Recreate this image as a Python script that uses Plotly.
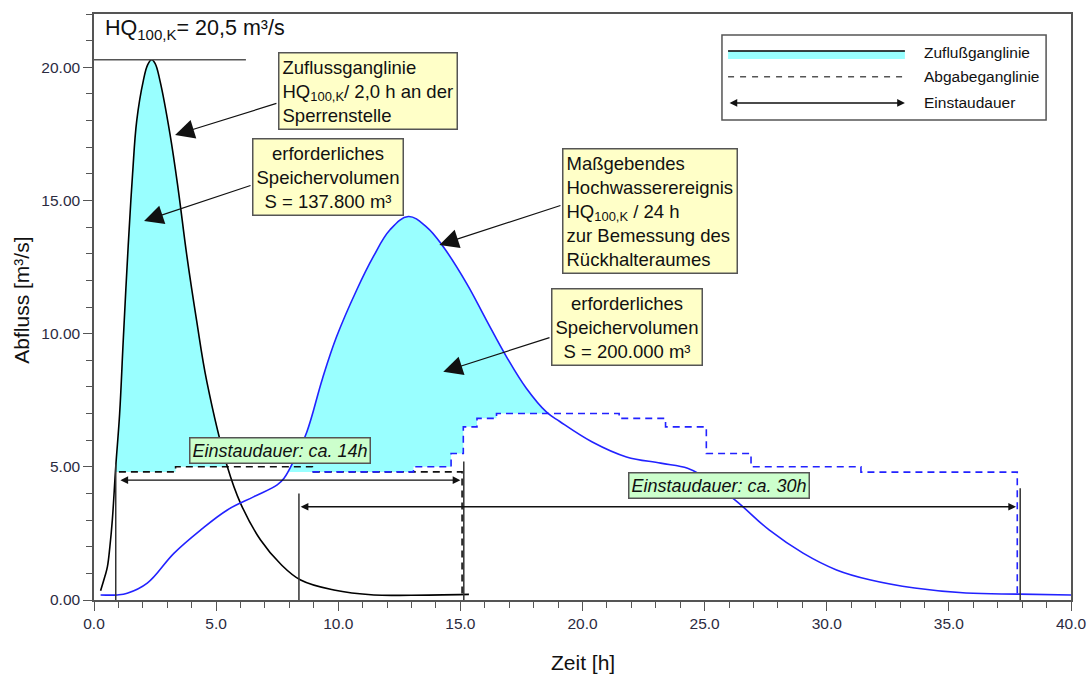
import numpy as np
import plotly.graph_objects as go

# ---------------- data ----------------
# Inflow hydrograph HQ100,K / 2,0 h (black)
inflow_t = [0.27, 0.45, 0.55, 0.65, 0.75, 0.89, 1.05, 1.2, 1.4, 1.58, 1.75, 2.02, 2.2, 2.36,
            2.5, 2.7, 3.11, 3.45, 3.79, 4.2, 4.62, 5.46, 6.0, 6.82, 7.64, 8.46, 9.82,
            11.46, 13.0, 15.35]
inflow_q = [0.35, 0.9, 1.25, 2.0, 3.0, 5.0, 7.0, 9.8, 13.3, 16.0, 18.0, 19.5, 20.1, 20.28,
            20.15, 19.5, 17.5, 15.4, 13.0, 10.5, 8.2, 5.0, 3.63, 2.25, 1.35, 0.75, 0.375,
            0.19, 0.18, 0.21]

# Design flood HQ100,K / 24 h (blue)
flood_t = [0.27, 0.95, 1.36, 2.18, 3.27, 4.37, 5.46, 6.55, 7.5, 7.78, 8.19, 8.71, 9.35, 9.93,
           10.75, 11.43, 12.12, 12.87, 13.62, 14.3, 15.26, 16.07, 16.89, 17.7, 18.53, 19.07,
           20.4, 21.8, 23.2, 24.3, 24.86, 26.25, 27.64, 29.03, 30.4, 31.8, 33.6, 35.7, 37.9, 40.0]
flood_q = [0.19, 0.19, 0.25, 0.63, 1.75, 2.63, 3.38, 3.88, 4.32, 4.57, 5.25, 6.3, 8.3, 9.88,
           11.63, 12.88, 13.9, 14.4, 14.0, 13.26, 11.88, 10.5, 9.13, 7.95, 7.05, 6.7,
           5.93, 5.37, 5.14, 4.95, 4.69, 3.75, 2.63, 1.76, 1.13, 0.75, 0.45, 0.26, 0.22, 0.19]

# Outflow (Abgabeganglinie) event 1, step values (black dashed)
out1_t = [1.02, 3.34, 8.94, 15.0, 15.07]
out1_q = [4.81, 5.0, 4.81, 4.81, 0.2]

# Outflow event 2, step values (blue dashed)
out2_t = [8.94, 13.08, 14.62, 15.12, 15.68, 16.48, 21.5, 23.4, 25.07, 26.9, 31.4, 37.7, 37.8]
out2_q = [4.81, 5.0, 5.5, 6.5, 6.82, 7.0, 6.82, 6.5, 5.5, 5.0, 4.8, 4.8, 0.2]

# Storage periods (Einstaudauer): start, end, level
dur1 = (1.02, 15.0, 4.5)
dur2 = (8.4, 37.75, 3.5)
# vertical marker lines: time, top
markers_t = [0.89, 8.39, 15.14, 37.92]
markers_top = [5.13, 4.0, 5.2, 4.2]

HQ_peak = 20.28
HQ_line_end = 6.22

CYAN = "#99FFFF"
BLUE = "#2222FF"
YEL = "#FFFFC8"
GRN = "#CCFFCC"
FONT = "Liberation Sans, Arial, sans-serif"
SMOOTH = 1.1


def step_val(ts, qs, t):
    v = qs[0]
    for ti, qi in zip(ts, qs):
        if ti <= t:
            v = qi
    return v


def step_segment(ts, qs, t0, t1):
    xs = [t0]
    ys = [step_val(ts, qs, t0)]
    for ti, qi in zip(ts, qs):
        if t0 < ti < t1:
            xs.append(ti)
            ys.append(qi)
    xs.append(t1)
    ys.append(step_val(ts, qs, t1))
    return xs, ys


def curve_segment(ts, qs, t0, t1):
    ts = np.array(ts)
    qs = np.array(qs)
    xs = [t0] + [float(t) for t in ts if t0 < t < t1] + [t1]
    ys = ([float(np.interp(t0, ts, qs))] + [float(q) for t, q in zip(ts, qs) if t0 < t < t1]
          + [float(np.interp(t1, ts, qs))])
    return xs, ys


fig = go.Figure()

# --------- filled storage volumes ----------
fills = [
    (inflow_t, inflow_q, out1_t, out1_q, 0.89, 5.46),
    (flood_t, flood_q, out2_t, out2_q, 7.92, 18.62),
]
for ct, cq, ot, oq, t0, t1 in fills:
    sx, sy = step_segment(ot, oq, t0, t1)
    cx, cy = curve_segment(ct, cq, t0, t1)
    fig.add_trace(go.Scatter(x=sx, y=sy, mode="lines", line=dict(width=0, shape="hv"),
                             hoverinfo="skip", showlegend=False))
    fig.add_trace(go.Scatter(x=cx, y=cy, mode="lines",
                             line=dict(width=0, shape="spline", smoothing=SMOOTH),
                             fill="tonexty", fillcolor=CYAN, hoverinfo="skip", showlegend=False))

# --------- outflow lines ----------
fig.add_trace(go.Scatter(x=out1_t, y=out1_q, mode="lines",
                         line=dict(color="#111111", width=1.6, dash="7px,5px", shape="hv"),
                         showlegend=False))
fig.add_trace(go.Scatter(x=out2_t, y=out2_q, mode="lines",
                         line=dict(color=BLUE, width=1.6, dash="7px,5px", shape="hv"),
                         showlegend=False))

# --------- hydrographs ----------
fig.add_trace(go.Scatter(x=inflow_t, y=inflow_q, mode="lines",
                         line=dict(color="#000000", width=1.6, shape="spline", smoothing=SMOOTH),
                         showlegend=False))
fig.add_trace(go.Scatter(x=flood_t, y=flood_q, mode="lines",
                         line=dict(color=BLUE, width=1.6, shape="spline", smoothing=SMOOTH),
                         showlegend=False))

shapes = []
# vertical marker lines
for t, top in zip(markers_t, markers_top):
    shapes.append(dict(type="line", x0=t, x1=t, y0=0, y1=top, xref="x", yref="y",
                       line=dict(color="#333333", width=1.5)))
# HQ line
shapes.append(dict(type="line", x0=0, x1=HQ_line_end, y0=HQ_peak, y1=HQ_peak, xref="x", yref="y",
                   line=dict(color="#555555", width=1.5)))

# legend (drawn by hand)
shapes.append(dict(type="rect", x0=25.71, x1=38.98, y0=18.02, y1=21.21, xref="x", yref="y",
                   fillcolor="white", line=dict(color="#555555", width=1.5)))
shapes.append(dict(type="rect", x0=25.96, x1=33.2, y0=20.31, y1=20.6, xref="x", yref="y",
                   fillcolor=CYAN, line=dict(width=0)))
shapes.append(dict(type="line", x0=25.96, x1=33.2, y0=20.61, y1=20.61, xref="x", yref="y",
                   line=dict(color="#000000", width=1.5)))
shapes.append(dict(type="line", x0=25.96, x1=33.2, y0=19.64, y1=19.64, xref="x", yref="y",
                   line=dict(color="#555555", width=1.5, dash="6px,6px")))

ann = []
# legend texts & arrow
for label, yy in [("Zuflußganglinie", 20.55), ("Abgabeganglinie", 19.64), ("Einstaudauer", 18.66)]:
    ann.append(dict(x=33.9, y=yy, xref="x", yref="y", text=label, showarrow=False,
                    xanchor="left", yanchor="middle", font=dict(size=15.5, color="#111111", family=FONT)))
ann.append(dict(x=33.2, y=18.66, ax=25.96, ay=18.66, xref="x", yref="y", axref="x", ayref="y",
                text="", showarrow=True, arrowhead=2, arrowside="end+start", arrowsize=1.1,
                arrowwidth=1.4, arrowcolor="#111111", standoff=0, startstandoff=0))

# storage duration arrows
for (a, b, lvl) in (dur1, dur2):
    ann.append(dict(x=b, y=lvl, ax=a, ay=lvl, xref="x", yref="y", axref="x", ayref="y",
                    text="", showarrow=True, arrowhead=2, arrowside="end+start", arrowsize=1.1,
                    arrowwidth=1.4, arrowcolor="#111111", standoff=0, startstandoff=0))

# callout arrows (tail -> tip)
callouts = [((7.53, 18.66), (3.32, 17.46)),
            ((6.47, 15.58), (2.05, 14.23)),
            ((19.16, 14.83), (14.14, 13.33)),
            ((18.71, 9.87), (14.3, 8.57))]
for (tx, ty), (hx, hy) in callouts:
    ann.append(dict(x=hx, y=hy, ax=tx, ay=ty, xref="x", yref="y", axref="x", ayref="y",
                    text="", showarrow=True, arrowhead=2, arrowsize=3.2, arrowwidth=1.2,
                    arrowcolor="#111111", standoff=0, startstandoff=0))

# text boxes
boxes = [
    (7.53, 20.57, "Zuflussganglinie<br>HQ<sub>100,K</sub>/ 2,0 h an der<br>Sperrenstelle", "left", YEL, False),
    (6.47, 17.35, "erforderliches<br>Speichervolumen<br>S = 137.800 m³", "center", YEL, False),
    (19.16, 16.97, "Maßgebendes<br>Hochwasserereignis<br>HQ<sub>100,K</sub> / 24 h<br>zur Bemessung des<br>Rückhalteraumes", "left", YEL, False),
    (18.71, 11.71, "erforderliches<br>Speichervolumen<br>S = 200.000 m³", "center", YEL, False),
    (3.89, 6.12, "<i>Einstaudauer: ca. 14h</i>", "left", GRN, True),
    (21.86, 4.8, "<i>Einstaudauer: ca. 30h</i>", "left", GRN, True),
]
for x, y, txt, al, bg, small in boxes:
    ann.append(dict(x=x, y=y, xref="x", yref="y", text=txt, showarrow=False, align=al,
                    xanchor="left", yanchor="top", bgcolor=bg, bordercolor="#555555",
                    borderwidth=1.5, borderpad=3 if not small else 2,
                    font=dict(size=18 if small else 18.5, color="#111111", family=FONT)))

# title text
ann.append(dict(x=0.37, y=21.4, xref="x", yref="y", text="HQ<sub>100,K</sub>= 20,5 m³/s",
                showarrow=False, xanchor="left", yanchor="middle",
                font=dict(size=21.5, color="#111111", family=FONT)))

# axis titles
ann.append(dict(x=-0.074, y=0.512, xref="paper", yref="paper", text="Abfluss [m³/s]",
                xanchor="center", yanchor="middle",
                showarrow=False, textangle=-90, font=dict(size=21, color="#111111", family=FONT)))
ann.append(dict(x=0.5, y=-0.106, xref="paper", yref="paper", text="Zeit [h]",
                xanchor="center", yanchor="middle",
                showarrow=False, font=dict(size=21, color="#111111", family=FONT)))

fig.update_layout(
    width=1092, height=675, autosize=False,
    margin=dict(l=94, r=21, t=14, b=75, autoexpand=False),
    paper_bgcolor="white", plot_bgcolor="white",
    shapes=shapes, annotations=ann, showlegend=False,
    font=dict(family=FONT),
)
fig.update_xaxes(range=[0, 40], dtick=5, tickformat=".1f", showgrid=False, zeroline=False,
                 automargin=False,
                 showline=True, linecolor="#555555", linewidth=1.5, mirror=True,
                 ticks="outside", ticklen=9, tickwidth=1.3, tickcolor="#555555",
                 minor=dict(dtick=1, ticks="outside", ticklen=6, tickwidth=1.2, tickcolor="#555555"),
                 tickfont=dict(size=15.5, color="#2b2b3f", family=FONT))
fig.update_yaxes(range=[0, 22], dtick=5, tickformat=".2f", showgrid=False, zeroline=False,
                 automargin=False,
                 showline=True, linecolor="#555555", linewidth=1.5, mirror=True,
                 ticks="outside", ticklen=9, tickwidth=1.3, tickcolor="#555555",
                 minor=dict(dtick=1, ticks="outside", ticklen=6, tickwidth=1.2, tickcolor="#555555"),
                 tickfont=dict(size=15.5, color="#2b2b3f", family=FONT))

fig.write_html("out.html", config={"displayModeBar": False},
               post_script="document.body.style.margin='0px';")
